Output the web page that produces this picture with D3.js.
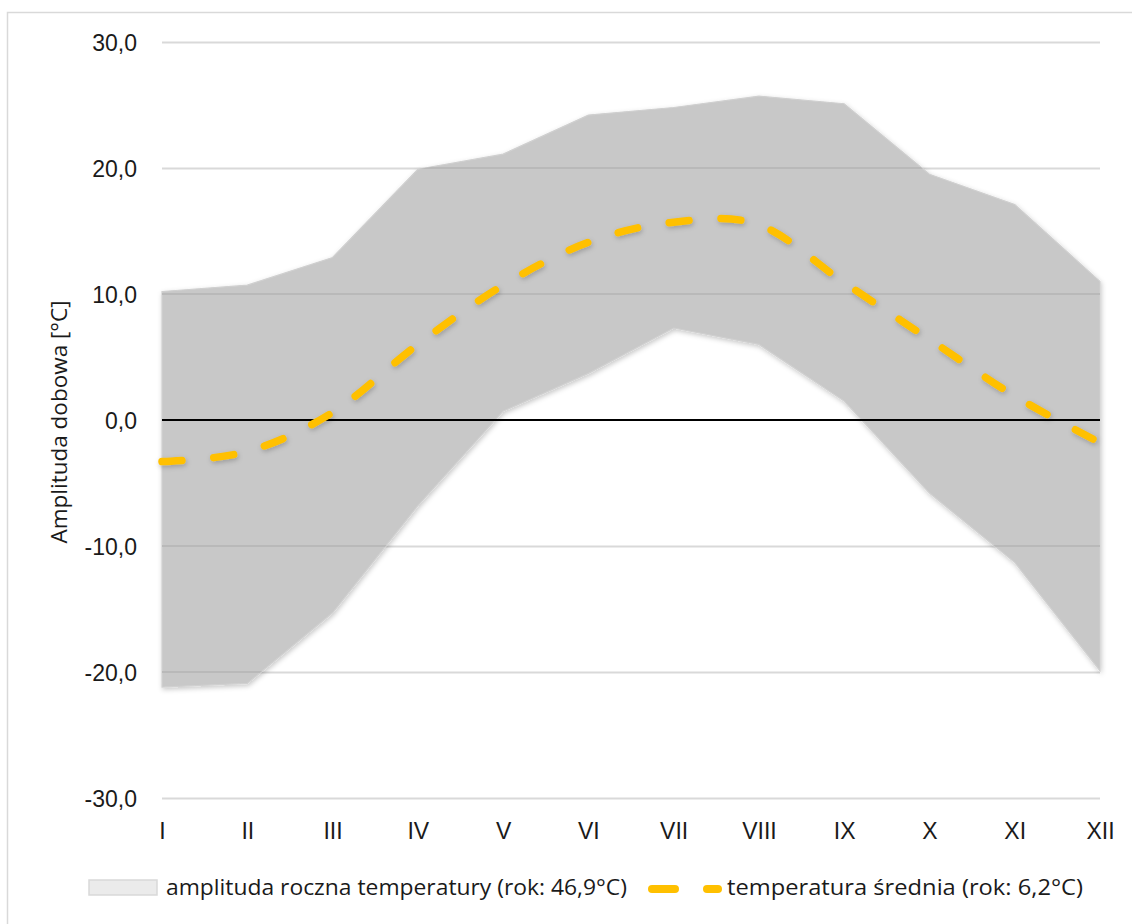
<!DOCTYPE html>
<html>
<head>
<meta charset="utf-8">
<script src="https://cdn.jsdelivr.net/npm/d3@7"></script>
<style>
  html, body { margin: 0; padding: 0; background: #fff; }
  svg { display: block; }
</style>
</head>
<body>
<svg id="chart" width="1132" height="924"></svg>
<script>
// Monthly climate data (°C)
const months = ["I", "II", "III", "IV", "V", "VI", "VII", "VIII", "IX", "X", "XI", "XII"];
const tempMax = [10.2, 10.7, 12.9, 19.9, 21.1, 24.2, 24.8, 25.7, 25.1, 19.5, 17.1, 11.0];
const tempMin = [-21.2, -20.9, -15.3, -6.8, 0.7, 3.7, 7.3, 6.0, 1.5, -5.8, -11.3, -19.9];
const tempMean = [-3.3, -2.5, 0.6, 6.0, 10.7, 14.1, 15.7, 15.5, 10.9, 6.4, 1.9, -1.8];
const yTicks = [-30, -20, -10, 0, 10, 20, 30];
const legendLabels = ["amplituda roczna temperatury (rok: 46,9°C)", "temperatura średnia (rok: 6,2°C)"];
const yTitle = "Amplituda dobowa [°C]";

const svg = d3.select("#chart");
const plotLeft = 162, plotRight = 1100, plotTop = 42, plotBottom = 798;
const axisFont = "Liberation Sans, Arial, sans-serif";
const textFont = "Open Sans, sans-serif";

const x = d3.scalePoint().domain(months).range([plotLeft, plotRight]);
const y = d3.scaleLinear().domain([-30, 30]).range([plotBottom, plotTop]);
const fmt = v => d3.format(".1f")(v).replace(".", ",").replace("−", "-");

const band = d3.area()
  .x((d, i) => x(months[i]))
  .y0((d, i) => y(tempMin[i]))
  .y1((d, i) => y(tempMax[i]));

// soft shadow + clip to the band
const defs = svg.append("defs");
const sh = defs.append("filter").attr("id", "soft").attr("x", "-10%").attr("y", "-10%").attr("width", "120%").attr("height", "120%");
sh.append("feDropShadow").attr("dx", 1).attr("dy", 2).attr("stdDeviation", 2.5)
  .attr("flood-color", "#000").attr("flood-opacity", 0.22);
defs.append("clipPath").attr("id", "bandClip")
  .append("path").datum(tempMax).attr("d", band);

// chart border
svg.append("rect").attr("x", 7.5).attr("y", 12.5).attr("width", 1140).attr("height", 930)
  .attr("fill", "none").attr("stroke", "#d9d9d9").attr("stroke-width", 1.5);

// gridlines and y tick labels
const yAxis = d3.axisLeft(y).tickValues(yTicks).tickSize(-(plotRight - plotLeft)).tickFormat(fmt).tickPadding(25);
const gy = svg.append("g").attr("transform", `translate(${plotLeft},0)`).call(yAxis);
gy.select(".domain").remove();
gy.selectAll(".tick line").attr("stroke", "#d9d9d9").attr("stroke-width", 2)
  .attr("display", d => d === 0 ? "none" : null);
gy.selectAll(".tick text").attr("fill", "#1a1a1a").attr("font-family", axisFont)
  .attr("font-size", 23).attr("dy", "0.36em");

// annual range band
svg.append("path").datum(tempMax).attr("d", band)
  .attr("fill", "#c8c8c8")
  .attr("stroke", "#d0d0d0").attr("stroke-width", 1.2)
  .attr("filter", "url(#soft)");

// gridlines seen through the band
svg.append("g").attr("clip-path", "url(#bandClip)")
  .selectAll("line").data(yTicks.filter(d => d !== 0)).join("line")
  .attr("x1", plotLeft).attr("x2", plotRight)
  .attr("y1", d => y(d)).attr("y2", d => y(d))
  .attr("stroke", "#b9b9b9").attr("stroke-width", 2);

// zero line
svg.append("line").attr("x1", plotLeft).attr("x2", plotRight).attr("y1", y(0)).attr("y2", y(0))
  .attr("stroke", "#000").attr("stroke-width", 2);

// mean temperature (smoothed)
const meanLine = d3.line()
  .x((d, i) => x(months[i]))
  .y(d => y(d))
  .curve(d3.curveCardinal.tension(0));
svg.append("path").datum(tempMean).attr("d", meanLine)
  .attr("fill", "none").attr("stroke", "#ffc000").attr("stroke-width", 7.5)
  .attr("stroke-linecap", "round").attr("stroke-dasharray", "20 32")
  .attr("filter", "url(#soft)");

// x axis labels
const xAxis = d3.axisBottom(x).tickSize(0).tickPadding(25);
const gx = svg.append("g").attr("transform", `translate(0,${plotBottom})`).call(xAxis);
gx.select(".domain").remove();
gx.selectAll(".tick text").attr("fill", "#1a1a1a").attr("font-family", axisFont)
  .attr("font-size", 23);

// y axis title
svg.append("text").attr("transform", `translate(67,${(plotTop + plotBottom) / 2 + 2}) rotate(-90)`)
  .attr("text-anchor", "middle").attr("font-family", textFont).attr("font-size", 21)
  .attr("textLength", 243).attr("lengthAdjust", "spacingAndGlyphs")
  .attr("fill", "#1a1a1a").text(yTitle);

// legend
const lg = svg.append("g").attr("font-family", textFont).attr("font-size", 21).attr("fill", "#1a1a1a");
lg.append("rect").attr("x", 89).attr("y", 880).attr("width", 68).attr("height", 15)
  .attr("fill", "#ebebeb").attr("stroke", "#d9d9d9").attr("stroke-width", 1.5);
lg.append("text").attr("x", 166).attr("y", 895)
  .attr("textLength", 461).attr("lengthAdjust", "spacingAndGlyphs").text(legendLabels[0]);
lg.append("line").attr("x1", 652).attr("x2", 675).attr("y1", 889).attr("y2", 889)
  .attr("stroke", "#ffc000").attr("stroke-width", 8).attr("stroke-linecap", "round");
lg.append("line").attr("x1", 707).attr("x2", 718).attr("y1", 889).attr("y2", 889)
  .attr("stroke", "#ffc000").attr("stroke-width", 8).attr("stroke-linecap", "round");
lg.append("text").attr("x", 727).attr("y", 895)
  .attr("textLength", 356).attr("lengthAdjust", "spacingAndGlyphs").text(legendLabels[1]);
</script>
</body>
</html>
